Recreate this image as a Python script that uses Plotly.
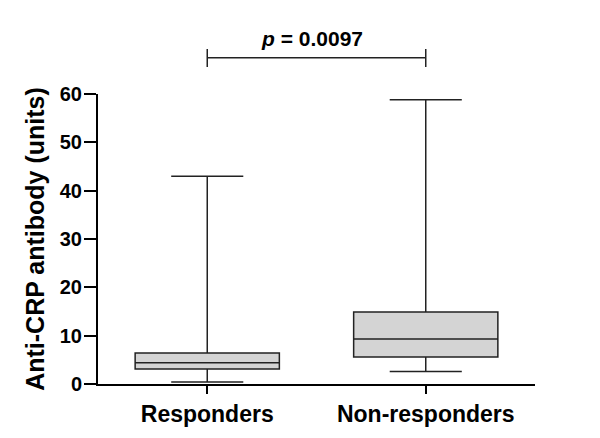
import plotly.graph_objects as go

categories = ["Responders", "Non-responders"]
q1 = [3.1, 5.6]
median = [4.4, 9.3]
q3 = [6.4, 14.9]
lower = [0.4, 2.6]
upper = [43.0, 58.8]
y_ticks = [0, 10, 20, 30, 40, 50, 60]
p_label = "<i>p</i> = 0.0097"

FONT = "Liberation Sans, Arial, sans-serif"

fig = go.Figure()
fig.add_trace(go.Box(
    x=categories, q1=q1, median=median, q3=q3,
    lowerfence=lower, upperfence=upper,
    width=0.66, whiskerwidth=0.5,
    fillcolor="#d4d4d4",
    line=dict(color="#222222", width=1.5),
    boxpoints=False, showlegend=False, hoverinfo="skip",
))

# significance bracket
fig.add_shape(type="line", xref="x", yref="paper", x0=0, x1=1, y0=1.125, y1=1.125,
              line=dict(color="#222222", width=1.5))
for xv in (0, 1):
    fig.add_shape(type="line", xref="x", yref="paper", x0=xv, x1=xv, y0=1.093, y1=1.155,
                  line=dict(color="#222222", width=1.5))
fig.add_annotation(x=0.48, xref="x", y=1.19, yref="paper", text=p_label, showarrow=False,
                   yanchor="middle",
                   font=dict(family=FONT, size=21, color="black", weight="bold"))

fig.update_layout(
    width=600, height=438,
    margin=dict(l=90, r=73, t=86, b=62),
    paper_bgcolor="white", plot_bgcolor="white",
    font=dict(family=FONT, color="black"),
    xaxis=dict(
        type="category", range=[-0.5, 1.5],
        showline=True, linewidth=2, linecolor="black",
        ticks="outside", ticklen=8, tickwidth=2, tickcolor="black",
        showgrid=False, zeroline=False,
        tickfont=dict(family=FONT, size=23, color="black", weight="bold"),
    ),
    yaxis=dict(
        range=[0, 60], tickvals=y_ticks,
        showline=True, linewidth=2, linecolor="black",
        ticks="outside", ticklen=12, tickwidth=2, tickcolor="black",
        ticklabelstandoff=-2,
        showgrid=False, zeroline=False,
        tickfont=dict(family=FONT, size=20, color="black", weight="bold"),
        title=dict(text="Anti-CRP antibody (units)", standoff=8,
                   font=dict(family=FONT, size=25, color="black", weight="bold")),
    ),
)

fig.write_html("out.html")
